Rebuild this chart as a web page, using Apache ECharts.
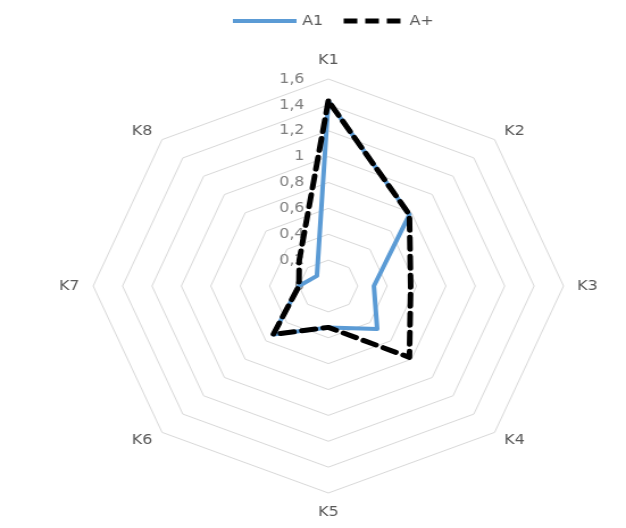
<!DOCTYPE html>
<html>
<head>
<meta charset="utf-8">
<script src="https://cdn.jsdelivr.net/npm/echarts@6/dist/echarts.min.js"></script>
<style>
  html, body { margin: 0; padding: 0; background: #ffffff; overflow: hidden; }
  #wrap { width: 626px; height: 528px; overflow: hidden; }
  /* the chart is laid out narrower and stretched horizontally */
  #chart { width: 551px; height: 528px; transform: scaleX(1.1361); transform-origin: 0 0; }
</style>
</head>
<body>
<div id="wrap"><div id="chart"></div></div>
<script>
// Criteria on the radar axes (clockwise from the top)
const categories = ['K1', 'K2', 'K3', 'K4', 'K5', 'K6', 'K7', 'K8'];
// Scores per series
const seriesNames = ['A1', 'A+'];
const valuesA1 = [1.43, 0.78, 0.31, 0.47, 0.32, 0.53, 0.20, 0.11];
const valuesAPlus = [1.43, 0.78, 0.56, 0.78, 0.32, 0.53, 0.20, 0.28];
// Scale of every axis
const axisMin = 0;
const axisMax = 1.6;
const axisStep = 0.2;

const fontFamily = '"DejaVu Sans", Verdana, sans-serif';
const fmtComma = v => String(Math.round(v * 10) / 10).replace('.', ',');

// ECharts lays radar axes out counter-clockwise; keep the first axis on top
// and walk the rest backwards so the criteria run clockwise.
const order = [0].concat(categories.map((_, i) => i).slice(1).reverse());
const reorder = arr => order.map(i => arr[i]);

const chart = echarts.init(document.getElementById('chart'), null, { renderer: 'canvas' });

const indicator = order.map((idx, pos) => ({
  name: categories[idx],
  min: axisMin,
  max: axisMax,
  // tick values are printed along the top axis only
  axisLabel: {
    show: pos === 0,
    margin: 21,
    color: '#7f7f7f',
    fontSize: 14,
    fontFamily: fontFamily,
    formatter: fmtComma
  }
}));

// legend keys: a solid bar and a row of dashes
const solidIcon = 'path://M0,0 H56 V4 H0 Z';
const dashIcon = 'path://M0,0 H12 V5 H0 Z M19,0 H31 V5 H19 Z M38,0 H50 V5 H38 Z';

chart.setOption({
  animation: false,
  backgroundColor: '#ffffff',
  legend: {
    data: [
      { name: seriesNames[0], icon: solidIcon, itemStyle: { color: '#5b9bd5' } },
      { name: seriesNames[1], icon: dashIcon, itemStyle: { color: '#000000' } }
    ],
    top: 9,
    left: 200,
    itemWidth: 56,
    itemHeight: 5,
    itemGap: 18,
    textStyle: { color: '#595959', fontSize: 14, fontFamily: fontFamily }
  },
  radar: {
    center: [289, 286],
    radius: 207,
    startAngle: 90,
    shape: 'polygon',
    splitNumber: Math.round((axisMax - axisMin) / axisStep),
    indicator: indicator,
    nameGap: 12,
    axisName: { color: '#595959', fontSize: 14, fontFamily: fontFamily },
    axisLine: { show: false },
    axisTick: { show: false },
    axisLabel: { show: false },
    splitLine: { lineStyle: { color: '#d9d9d9', width: 1 } },
    splitArea: { show: false }
  },
  series: [{
    type: 'radar',
    symbol: 'none',
    data: [
      {
        name: seriesNames[0],
        value: reorder(valuesA1),
        lineStyle: { color: '#5b9bd5', width: 4, join: 'round', cap: 'round' },
        itemStyle: { color: '#5b9bd5' }
      },
      {
        name: seriesNames[1],
        value: reorder(valuesAPlus),
        lineStyle: { color: '#000000', width: 5, type: [12, 7], cap: 'round', join: 'round' },
        itemStyle: { color: '#000000' }
      }
    ]
  }]
});
</script>
</body>
</html>
